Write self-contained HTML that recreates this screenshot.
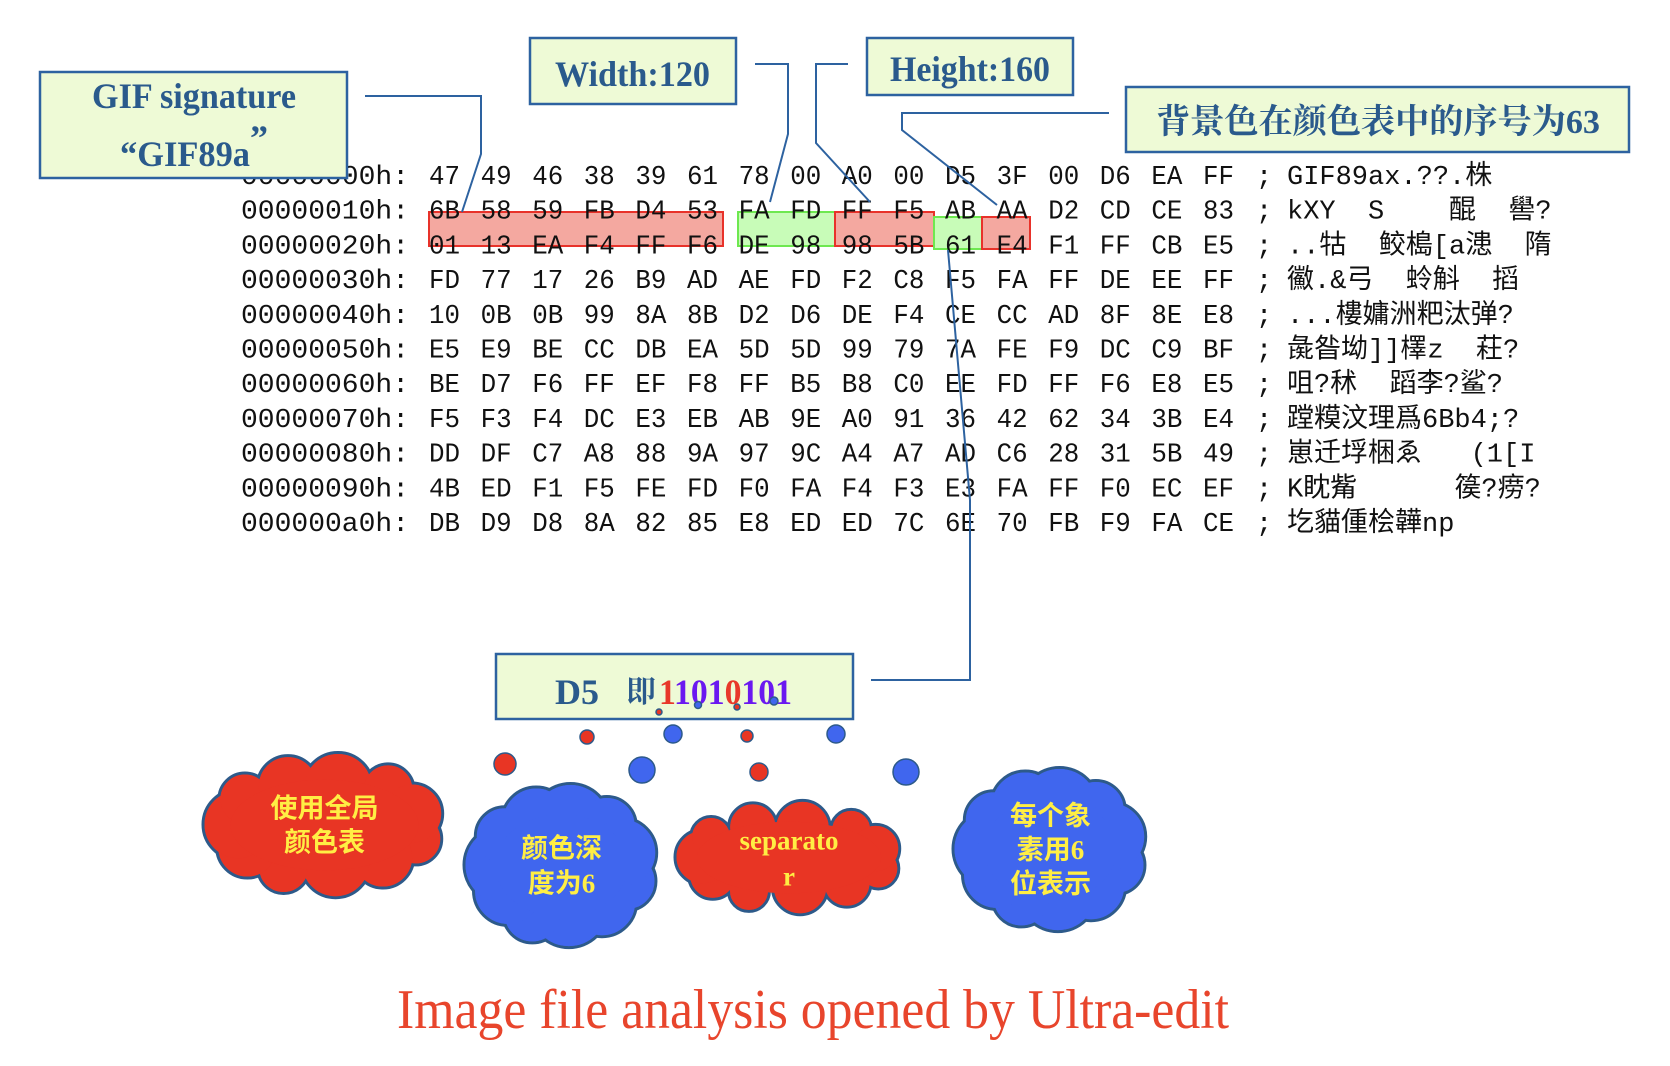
<!DOCTYPE html>
<html><head><meta charset="utf-8"><style>
html,body{margin:0;padding:0;background:#fff;}
svg{display:block;}
.hex{font-family:"Liberation Mono","Noto Sans CJK SC",monospace;font-size:27px;fill:#111;}
.asc{font-family:"Liberation Mono","Noto Sans CJK SC",monospace;font-size:27px;fill:#111;white-space:pre;}
.lbl{font-family:"Liberation Serif","Noto Serif CJK SC",serif;font-weight:bold;fill:#2a5a8c;}
.box{fill:#eefad6;stroke:#2d62a0;stroke-width:2.5;}
.ln{fill:none;stroke:#2d62a0;stroke-width:2;}
.ct{font-family:"Liberation Serif","Noto Sans CJK SC",serif;font-weight:bold;fill:#ffee44;font-size:27px;}
</style></head><body>
<svg id="s" width="1670" height="1066" viewBox="0 0 1670 1066" xmlns="http://www.w3.org/2000/svg">
<rect x="429" y="212" width="294" height="34" fill="#f4a8a0" stroke="#e8322a" stroke-width="2"/>
<rect x="738" y="212" width="97" height="34" fill="#c8fcb8" stroke="#6ee850" stroke-width="2"/>
<rect x="835" y="212" width="99" height="34" fill="#f4a8a0" stroke="#e8322a" stroke-width="2"/>
<rect x="934" y="217" width="48" height="32" fill="#c8fcb8" stroke="#6ee850" stroke-width="2"/>
<rect x="982" y="217" width="48" height="32" fill="#f4a8a0" stroke="#e8322a" stroke-width="2"/>
<g id="hex"></g>
<polyline class="ln" points="365,96 481,96 481,154 462,212"/>
<polyline class="ln" points="755,64 788,64 788,134 770,202"/>
<polyline class="ln" points="848,64 816,64 816,143 870,202"/>
<polyline class="ln" points="1109,113 902,113 902,130 997,205"/>
<polyline class="ln" points="948,250 970,500 970,680 871,680"/>
<rect class="box" x="40" y="72" width="307" height="106"/>
<text class="lbl" x="92" y="108" font-size="36" textLength="204" lengthAdjust="spacingAndGlyphs">GIF signature</text>
<text class="lbl" x="120" y="166" font-size="36" textLength="130" lengthAdjust="spacingAndGlyphs">“GIF89a</text>
<text class="lbl" x="250" y="150" font-size="36">”</text>
<rect class="box" x="530" y="38" width="206" height="66"/>
<text class="lbl" x="555" y="86" font-size="36" textLength="155" lengthAdjust="spacingAndGlyphs">Width:120</text>
<rect class="box" x="867" y="38" width="206" height="57"/>
<text class="lbl" x="890" y="81" font-size="36" textLength="160" lengthAdjust="spacingAndGlyphs">Height:160</text>
<rect class="box" x="1126" y="87" width="503" height="65"/>
<text class="lbl" x="1156" y="133" font-size="34" textLength="444" lengthAdjust="spacingAndGlyphs">背景色在颜色表中的序号为63</text>
<rect class="box" x="496" y="654" width="357" height="65"/>
<text class="lbl" x="555" y="704" font-size="36">D5</text>
<text class="lbl" x="626" y="702" font-size="30">即</text>
<text class="lbl" x="659" y="704" font-size="36" textLength="133" lengthAdjust="spacingAndGlyphs"><tspan fill="#e8382a">1</tspan><tspan fill="#6a18f0">101</tspan><tspan fill="#e8382a">0</tspan><tspan fill="#6a18f0">101</tspan></text>
<g id="clouds"></g>
<g id="dots"></g>
<text x="397" y="1028" font-family="Liberation Serif,serif" font-size="56" fill="#e8452c" textLength="832" lengthAdjust="spacingAndGlyphs">Image file analysis opened by Ultra-edit</text>
</svg>
<script>
var NS="http://www.w3.org/2000/svg";
function el(p,t,a,txt){var e=document.createElementNS(NS,t);for(var k in a)e.setAttribute(k,a[k]);if(txt!=null)e.textContent=txt;p.appendChild(e);return e;}
var rows=[
["00000000h:","47 49 46 38 39 61 78 00 A0 00 D5 3F 00 D6 EA FF","GIF89ax.??.株"],
["00000010h:","6B 58 59 FB D4 53 FA FD FF F5 AB AA D2 CD CE 83","kXY  S    醌  嚳?"],
["00000020h:","01 13 EA F4 FF F6 DE 98 98 5B 61 E4 F1 FF CB E5","..牯  鲛槝[a漶  隋"],
["00000030h:","FD 77 17 26 B9 AD AE FD F2 C8 F5 FA FF DE EE FF","鰴.&弓  蛉斛  搯"],
["00000040h:","10 0B 0B 99 8A 8B D2 D6 DE F4 CE CC AD 8F 8E E8","...樓嫞洲粑汰弹?"],
["00000050h:","E5 E9 BE CC DB EA 5D 5D 99 79 7A FE F9 DC C9 BF","彘昝坳]]檡z  荰?"],
["00000060h:","BE D7 F6 FF EF F8 FF B5 B8 C0 EE FD FF F6 E8 E5","咀?秫  蹈李?鲨?"],
["00000070h:","F5 F3 F4 DC E3 EB AB 9E A0 91 36 42 62 34 3B E4","蹚糢汶理爲6Bb4;?"],
["00000080h:","DD DF C7 A8 88 9A 97 9C A4 A7 AD C6 28 31 5B 49","崽迁垺梱ゑ   (1[I"],
["00000090h:","4B ED F1 F5 FE FD F0 FA F4 F3 E3 FA FF F0 EC EF","K眈觜      篌?痨?"],
["000000a0h:","DB D9 D8 8A 82 85 E8 ED ED 7C 6E 70 FB F9 FA CE","圪貓偅桧韡np"]];
var g=document.getElementById("hex");
rows.forEach(function(r,i){var y=175+34.7*i+9;
el(g,"text",{x:241,y:y,"class":"hex",textLength:"168",lengthAdjust:"spacingAndGlyphs"},r[0]);
r[1].split(" ").forEach(function(b,j){el(g,"text",{x:429+51.6*j,y:y,"class":"hex",textLength:"31",lengthAdjust:"spacingAndGlyphs"},b);});
el(g,"text",{x:1256,y:y,"class":"hex"},";");
el(g,"text",{x:1287,y:y,"class":"asc"},r[2]);
});
function cloud(x0,y0,x1,y1,fill,lines,fs,lh){
 var cg=document.getElementById("clouds");var cx=(x0+x1)/2,cy=(y0+y1)/2,rx=(x1-x0)/2,ry=(y1-y0)/2;
 var r=Math.min(rx,ry)*0.42,n=11,cs=[];
 for(var i=0;i<n;i++){var a=i/n*2*Math.PI+0.3;var rr=r*(0.85+0.3*((i*7)%3)/2);cs.push([cx+(rx-rr)*Math.cos(a),cy+(ry-rr)*Math.sin(a),rr]);}
 cs.forEach(function(c){el(cg,"circle",{cx:c[0],cy:c[1],r:c[2],fill:fill,stroke:"#2d5a8a","stroke-width":3});});
 cs.forEach(function(c){el(cg,"circle",{cx:c[0],cy:c[1],r:c[2]-1.5,fill:fill});});
 el(cg,"ellipse",{cx:cx,cy:cy,rx:rx-r*0.9,ry:ry-r*0.9,fill:fill});
 var ty=cy-(lines.length-1)*lh/2+fs*0.36;
 lines.forEach(function(t,k){el(cg,"text",{x:cx,y:ty+k*lh,"class":"ct","text-anchor":"middle","font-size":fs},t);});
}
cloud(203,752,446,898,"#e83524",["使用全局","颜色表"],27,34);
cloud(464,783,659,948,"#4066ee",["颜色深","度为6"],27,35);
cloud(675,800,903,915,"#e83524",["separato","r"],28,36);
cloud(953,767,1148,932,"#4066ee",["每个象","素用6","位表示"],27,34);
var d=document.getElementById("dots");
[[659,712,3,"r"],[698,705,3.5,"b"],[737,707,3,"r"],[774,701,4,"b"],
[587,737,7,"r"],[673,734,9,"b"],[747,736,6,"r"],[836,734,9,"b"],
[505,764,11,"r"],[642,770,13,"b"],[759,772,9,"r"],[906,772,13,"b"]].forEach(function(p){
el(d,"circle",{cx:p[0],cy:p[1],r:p[2],fill:p[3]=="r"?"#e83524":"#4066ee",stroke:"#2d5a8a","stroke-width":1.5});});
</script>
</body></html>
